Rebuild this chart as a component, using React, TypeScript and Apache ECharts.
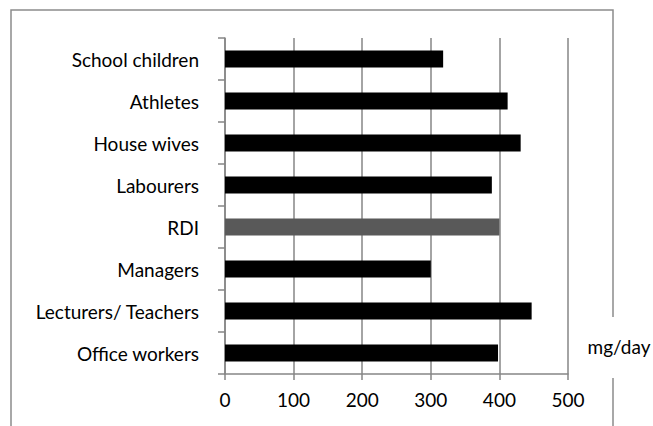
import React, { useEffect, useRef } from "react";
import * as echarts from "echarts";

const categories = [
  "Office workers",
  "Lecturers/ Teachers",
  "Managers",
  "RDI",
  "Labourers",
  "House wives",
  "Athletes",
  "School children",
];
const values = [398, 447, 300, 400, 389, 431, 412, 318];
const highlight = "RDI";
const xTicks = [0, 100, 200, 300, 400, 500];
const unitLabel = "mg/day";

const FONT = "Lato";

export default function App() {
  const ref = useRef<HTMLDivElement>(null);
  useEffect(() => {
    if (!ref.current) return;
    const chart = echarts.init(ref.current, undefined, { renderer: "svg" });
    chart.setOption({
      animation: false,
      backgroundColor: "#fff",
      textStyle: { fontFamily: FONT },
      grid: { left: 225, right: 85, top: 38, bottom: 52, containLabel: false },
      xAxis: {
        type: "value",
        min: xTicks[0],
        max: xTicks[xTicks.length - 1],
        interval: 100,
        axisLine: { show: true, lineStyle: { color: "#868686", width: 1.5 } },
        axisTick: { show: true, length: 6, lineStyle: { color: "#868686", width: 1.5 } },
        axisLabel: { color: "#000", fontSize: 19, fontFamily: FONT, margin: 16 },
        splitLine: { show: true, lineStyle: { color: "#868686", width: 1.5 } },
      },
      yAxis: {
        type: "category",
        data: categories,
        axisLine: { show: true, lineStyle: { color: "#868686", width: 1.5 } },
        axisTick: { show: true, length: 7, lineStyle: { color: "#868686", width: 1.5 } },
        axisLabel: { color: "#000", fontSize: 19, fontFamily: FONT, margin: 26 },
        splitLine: { show: false },
      },
      series: [
        {
          type: "bar",
          barWidth: 17,
          data: categories.map((c, i) => ({
            value: values[i],
            itemStyle: { color: c === highlight ? "#595959" : "#000" },
          })),
        },
      ],
      graphic: [
        {
          type: "rect",
          z: -10,
          silent: true,
          shape: { x: 11, y: 10, width: 602, height: 440 },
          style: { fill: "none", stroke: "#8c8c8c", lineWidth: 1.5 },
        },
        {
          type: "group",
          z: 100,
          children: [
            {
              type: "rect",
              shape: { x: 561, y: 317, width: 95, height: 61 },
              style: { fill: "#fff" },
            },
            {
              type: "text",
              x: 619,
              y: 346,
              style: {
                text: unitLabel,
                fontFamily: FONT,
                fontSize: 19,
                fill: "#000",
                align: "center",
                verticalAlign: "middle",
              },
            },
          ],
        },
      ],
    });
    return () => chart.dispose();
  }, []);
  return <div ref={ref} style={{ width: 653, height: 426, position: "absolute", left: 0, top: 0 }} />;
}
